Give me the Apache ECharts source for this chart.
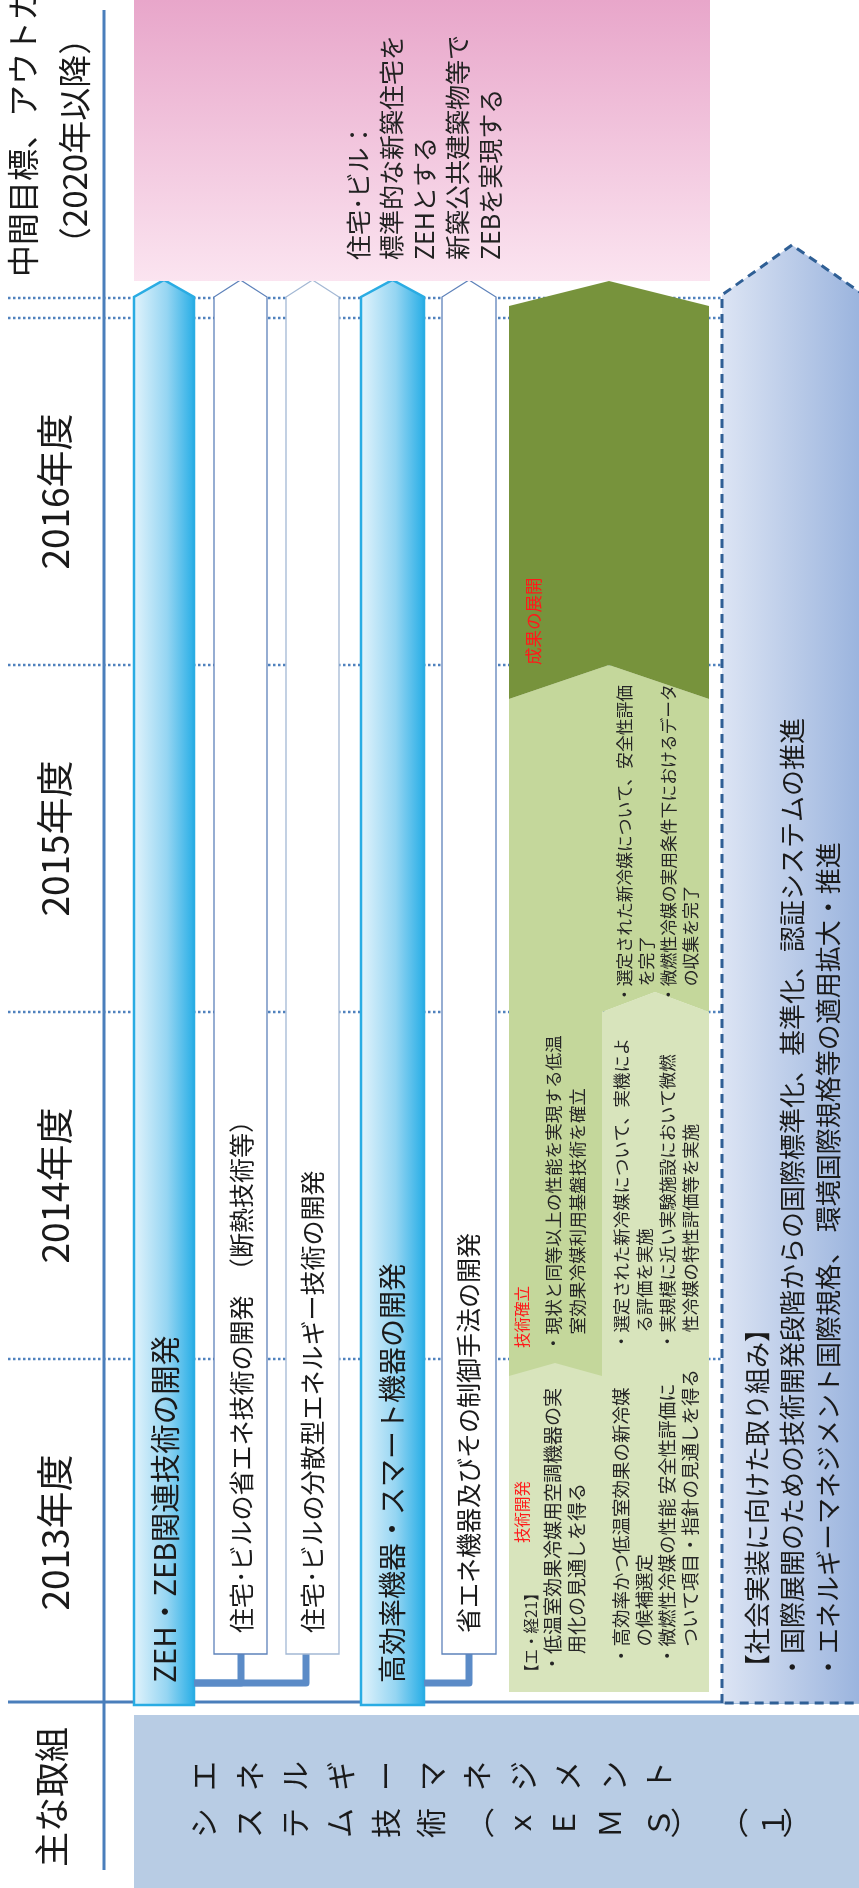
<!DOCTYPE html>
<html><head><meta charset="utf-8">
<script src="https://cdn.jsdelivr.net/npm/echarts@6/dist/echarts.min.js"></script>
<style>html,body{margin:0;padding:0;background:#fff}#c{width:859px;height:1888px}</style>
</head><body><div id="c"></div>
<script>
const FONT = '"Noto Sans CJK JP","Noto Sans CJK SC",sans-serif';

// ---------------- data ----------------
const yearLabels = ['2013年度', '2014年度', '2015年度', '2016年度'];
const yearStarts = [2013, 2014, 2015, 2016];
const outcomeHeader = ['中間目標、アウトカム', '（2020年以降）'];
const outcomeText = ['住宅･ビル：', '標準的な新築住宅を', 'ZEHとする', '新築公共建築物等で', 'ZEBを実現する'];
const rowHeader = '主な取組';
const themeRow1 = 'エネルギーマネジメント';
const themeRow2 = 'システム技術（ｘＥＭＳ）（１）';
const laneNames = ['ZEH・ZEB関連技術の開発', '住宅･ビルの省エネ技術の開発　（断熱技術等）', '住宅･ビルの分散型エネルギー技術の開発', '高効率機器・スマート機器の開発', '省エネ機器及びその制御手法の開発'];
const laneKinds = ['main', 'sub', 'sub', 'main', 'sub'];
const laneParent = [-1, 0, 0, -1, 3];
const cellYear = [2013, 2013, 2014, 2014, 2015, 2016];
const cellStage = ['light', 'light', 'mid', 'light', 'mid', 'dark'];
const cellTag = ['技術開発', '', '技術確立', '', '', '成果の展開'];
const cellHead = ['【エ・経21】', '', '', '', '', ''];
const cellText = [
  ['・低温室効果冷媒用空調機器の実', '　用化の見通しを得る'],
  ['・高効率かつ低温室効果の新冷媒', '　の候補選定', '・微燃性冷媒の性能 安全性評価に', '　ついて項目・指針の見通しを得る'],
  ['・現状と同等以上の性能を実現する低温', '　室効果冷媒利用基盤技術を確立'],
  ['・選定された新冷媒について、実機によ', '　る評価を実施', '・実規模に近い実験施設において微燃', '　性冷媒の特性評価等を実施'],
  ['・選定された新冷媒について、安全性評価', '　を完了', '・微燃性冷媒の実用条件下におけるデータ', '　の収集を完了'],
  []
];
const socialText = ['【社会実装に向けた取り組み】', '・国際展開のための技術開発段階からの国際標準化、基準化、認証システムの推進', '・エネルギーマネジメント国際規格、 環境国際規格等の適用拡大・推進'];

// ---------------- layout / style ----------------
const L = {
  yearLabelX: 55,
  laneX: [[134, 194], [214, 267], [286, 339], [361, 424], [442, 496]],
  laneTextX: [165, 241, 312, 392, 468],
  laneFs: [29.5, 25, 25, 28, 25],
  stemX: [0, 241, 306, 0, 469],
  mainBottom: 1705, subBottom: 1654, connY: 1683,
  mainTextStart: 1683, subTextStart: 1633,
  greenL: 509, greenM: 602, greenR: 709, greenBottom: 1692,
  cellFs: [19, 18.5, 17.6, 17.4, 16.8, 0],
  cellLineX: [553, 621, 553, 621, 625, 0],
  cellLh: [24, 23, 24, 23, 22, 0],
  cellStartOff: [33, 41, 7, 9, 9, 0],
  cellTagOff: [163, 0, 11, 0, 0, 0],
  cellTagX: [522, 0, 522, 0, 0, 533],
  cellTagFs: [15.5, 0, 15.5, 0, 0, 17.5]
};
const GREEN = { light: '#D8E4BC', mid: '#C4D79B', dark: '#77933C' };
const R90 = Math.PI / 2;

function vtext(x, y, text, fs, fill, align) {
  return { type: 'text', x: x, y: y, rotation: R90, silent: true,
    style: { text: text, fontSize: fs, fontFamily: FONT, fill: fill || '#1a1a1a', align: align || 'left', verticalAlign: 'middle' } };
}
function vblock(xFirst, y, lines, fs, lh, fill) {
  return { type: 'text', x: xFirst - lh / 2, y: y, rotation: R90, silent: true,
    style: { text: lines.join('\n'), fontSize: fs, lineHeight: lh, fontFamily: FONT, fill: fill || '#1a1a1a', align: 'left', verticalAlign: 'top' } };
}
function dotted(y) {
  return { type: 'line', silent: true, shape: { x1: 8, y1: y, x2: 859, y2: y },
    style: { stroke: '#4F81BD', lineWidth: 2.5, lineDash: [2.5, 2.5] } };
}

const chart = echarts.init(document.getElementById('c'), null, { renderer: 'canvas', width: 859, height: 1888 });

// ---------- static frame ----------
const frame = [];
frame.push({ type: 'line', z: 0, shape: { x1: 104, y1: 10, x2: 104, y2: 1870 }, style: { stroke: '#4A7EBB', lineWidth: 3 } });
frame.push({ type: 'line', z: 0, shape: { x1: 8, y1: 1702, x2: 859, y2: 1702 }, style: { stroke: '#4A7EBB', lineWidth: 3 } });
frame.push({ type: 'rect', z: 5, shape: { x: 134, y: 0, width: 576, height: 281 },
  style: { fill: new echarts.graphic.LinearGradient(0, 0, 0, 1, [{ offset: 0, color: '#E8A6CA' }, { offset: 1, color: '#FBE4F0' }]) } });
frame.push(Object.assign(vtext(23, 277, outcomeHeader[0], 32, '#1a1a1a'), { z: 5 }));
frame.push(Object.assign(vtext(74, 141, outcomeHeader[1], 33, '#1a1a1a', 'center'), { z: 5 }));
frame.push(Object.assign(vblock(358, 260, outcomeText, 25, 33, '#222'), { z: 6 }));
frame.push({ type: 'rect', z: 5, shape: { x: 134, y: 1715, width: 725, height: 173 }, style: { fill: '#B8CCE4' } });
frame.push(Object.assign(vtext(52, 1867, rowHeader, 35, '#1a1a1a'), { z: 5 }));
const row2X = [204, 249, 295, 340, 386, 431, 480, 520, 564, 610, 659, 685, 734, 773, 797];
themeRow1.split('').forEach((ch, i) => {
  frame.push(Object.assign(vtext(204 + i * 45.5, 1776, ch, 30, '#1a1a1a', 'center'), { z: 6 }));
});
themeRow2.split('').forEach((ch, i) => {
  const t = vtext(row2X[i], 1823, ch, 30, '#1a1a1a', 'center');
  if (ch === '（' || ch === '）') t.rotation = 0;
  frame.push(Object.assign(t, { z: 6 }));
});
// social implementation arrow
frame.push({ type: 'polygon', z: 5, shape: { points: [[722, 1703], [722, 295], [792, 245], [864, 295], [864, 1703]] },
  style: { fill: new echarts.graphic.LinearGradient(0, 0, 1, 0, [{ offset: 0, color: '#DDE5F4' }, { offset: 1, color: '#98B2DD' }]),
    stroke: '#2F5F95', lineWidth: 3, lineDash: [9, 6] } });
frame.push(Object.assign(vblock(757, 1680, socialText, 26, 35.5, '#1a1a1a'), { z: 6 }));

const option = {
  animation: false,
  backgroundColor: '#ffffff',
  grid: { left: 0, right: 0, top: 318, bottom: 182, containLabel: false },
  xAxis: { type: 'value', min: 0, max: 859, show: false },
  yAxis: { type: 'value', min: 2013, max: 2017, show: false },
  graphic: { elements: frame },
  series: [
    { // year columns: labels and boundaries
      type: 'custom', z: 1, silent: true,
      data: yearStarts.map(y => [0, y]),
      renderItem: function (params, api) {
        const i = params.dataIndex;
        const y0 = api.coord([0, yearStarts[i]])[1];
        const y1 = api.coord([0, yearStarts[i] + 1])[1];
        const ch = [vtext(L.yearLabelX, (y0 + y1) / 2, yearLabels[i], 37, '#1a1a1a', 'center'), dotted(y1)];
        if (i === yearStarts.length - 1) ch.push(dotted(y1 - 20));
        return { type: 'group', children: ch };
      }
    },
    { // green roadmap cells
      type: 'custom', z: 3, silent: true,
      data: cellYear.map(y => [0, y]),
      renderItem: function (params, api) {
        const i = params.dataIndex;
        const b0 = api.coord([0, cellYear[i]])[1];
        const b1 = api.coord([0, cellYear[i] + 1])[1];
        const l = L.greenL, m = L.greenM, r = L.greenR;
        let pts;
        if (i === 0) pts = [[l, b1], [m, b1], [m, L.greenBottom], [l, L.greenBottom]];
        else if (i === 1) pts = [[m, b1], [r, b1], [r, L.greenBottom], [m, L.greenBottom]];
        else if (i === 2) pts = [[l, b1 - 2], [m, b1 - 2], [m, b0 + 17], [555, b0 + 4], [l, b0 + 17]];
        else if (i === 3) pts = [[m, b1], [655, b1 - 20], [r, b1], [r, b0 + 2], [m, b0 + 2]];
        else if (i === 4) pts = [[l, b1 + 34], [609, b1], [r, b1 + 34], [r, b0], [655, b0 - 20], [m, b0], [l, b0]];
        else pts = [[l, b1 - 12], [609, b1 - 37], [r, b1 - 12], [r, b0 + 34], [609, b0], [l, b0 + 34]];
        const ch = [{ type: 'polygon', shape: { points: pts }, style: { fill: GREEN[cellStage[i]] } }];
        if (cellText[i].length) ch.push(vblock(L.cellLineX[i], b0 - L.cellStartOff[i], cellText[i], L.cellFs[i], L.cellLh[i], '#262626'));
        if (cellTag[i]) ch.push(vtext(L.cellTagX[i], b0 - L.cellTagOff[i], cellTag[i], L.cellTagFs[i], '#FF1A1A'));
        if (cellHead[i]) ch.push(vtext(531, b0 - 26, cellHead[i], 15.5, '#262626'));
        return { type: 'group', children: ch };
      }
    },
    { // lanes (arrows)
      type: 'custom', z: 4, silent: true,
      data: laneNames.map((n, i) => [i, 2017]),
      renderItem: function (params, api) {
        const i = params.dataIndex;
        const x0 = L.laneX[i][0], x1 = L.laneX[i][1], xc = (x0 + x1) / 2;
        const top = api.coord([0, 2017])[1];
        const tip = top - 38, sh = top - 21;
        const main = laneKinds[i] === 'main';
        const bottom = main ? L.mainBottom : L.subBottom;
        const ch = [];
        const p = laneParent[i];
        if (p >= 0) {
          ch.push({ type: 'polyline', shape: { points: [[L.laneX[p][1], L.connY], [L.stemX[i], L.connY], [L.stemX[i], bottom]] },
            style: { stroke: '#5B8BC7', lineWidth: 7, lineJoin: 'round', fill: null } });
        }
        ch.push({ type: 'polygon', shape: { points: [[x0, bottom], [x0, sh], [xc, tip], [x1, sh], [x1, bottom]] },
          style: main ? {
            fill: new echarts.graphic.LinearGradient(0, 0, 1, 0, [{ offset: 0, color: '#E4F4FC' }, { offset: 0.55, color: '#95D5F2' }, { offset: 1, color: '#25ADE6' }]),
            stroke: '#2AACE3', lineWidth: 2.5 } : {
            fill: '#ffffff', stroke: i === 2 ? '#A3B8D4' : '#5E82BA', lineWidth: 1.3 } });
        ch.push(vtext(L.laneTextX[i], main ? L.mainTextStart : L.subTextStart, laneNames[i], L.laneFs[i], '#1a1a1a'));
        return { type: 'group', children: ch };
      }
    }
  ]
};
chart.setOption(option);
</script>
</body></html>
